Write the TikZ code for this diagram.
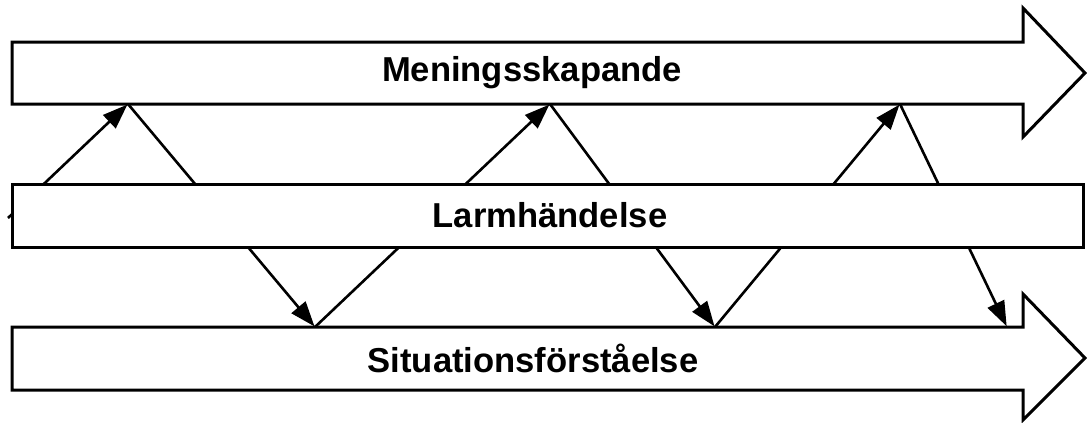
\documentclass[tikz,border=0pt]{standalone}
\usepackage{fontspec}
\setmainfont{Liberation Sans}
\usetikzlibrary{arrows.meta}

\tikzset{
  band/.style={draw=black, line width=1.5pt, fill=white, line join=miter},
  zig/.style={draw=black, line width=1.3pt, -{Triangle[length=12.5pt,width=9pt]}, shorten >=0.4pt},
  lbl/.style={font=\fontsize{17.3}{20}\selectfont\bfseries, inner sep=0pt}
}

\begin{document}
\begin{tikzpicture}[x=0.5pt,y=-0.5pt]
\useasboundingbox (0,0) rectangle (1087,423);

% upper and lower bands
\draw[band] (12,42) -- (1023,42) -- (1023,8) -- (1085,73) -- (1023,137) -- (1023,104) -- (12,104) -- cycle;
\draw[band] (12,327) -- (1023,327) -- (1023,294) -- (1085,358) -- (1023,420) -- (1023,390) -- (12,390) -- cycle;

% zigzag points
\coordinate (p0) at (8,218);
\coordinate (p1) at (128,104);
\coordinate (p2) at (315,327);
\coordinate (p3) at (550,104);
\coordinate (p4) at (715,327);
\coordinate (p5) at (900,104);
\coordinate (p6) at (1007,327);

\draw[zig] (p0) -- (p1);
\draw[zig] (p1) -- (p2);
\draw[zig] (p2) -- (p3);
\draw[zig] (p3) -- (p4);
\draw[zig] (p4) -- (p5);
\draw[zig] (p5) -- (p6);

% middle band on top
\draw[band] (12,184) rectangle (1083,247);

\node[lbl] (top) at (532,73) {Meningsskapande};
\node[lbl] (mid) at (550,215) {Larmhändelse};
\node[lbl] (bot) at (533,358) {Situationsförståelse};
\end{tikzpicture}
\end{document}
